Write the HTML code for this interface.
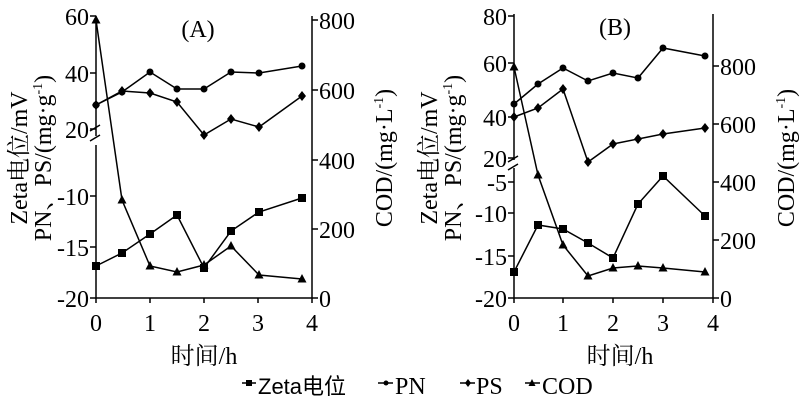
<!DOCTYPE html>
<html><head><meta charset="utf-8"><style>
html,body{margin:0;padding:0;background:#fff;}
svg{display:block;font-family:"Liberation Serif","Noto Serif CJK SC",serif;}
</style></head><body>
<svg width="809" height="410" viewBox="0 0 809 410" xmlns="http://www.w3.org/2000/svg">
<defs>
<rect id="sq" x="-4" y="-4" width="8" height="8" fill="#000"/>
<circle id="ci" r="3.5" fill="#000"/>
<path id="di" d="M0,-5 L4,0 L0,5 L-4,0Z" fill="#000"/>
<path id="tr" d="M0,-5 L4.5,3.5 L-4.5,3.5Z" fill="#000"/>
</defs>
<g stroke="#000" stroke-width="1.5" fill="none">
<path d="M96,16 V136 M96,145 V298 H312 V16"/>
<path d="M90,131 L100,125 M90,141 L100,135"/>
<path d="M90,16 H96 M90,73 H96 M90,129 H96 M90,196 H96 M90,247 H96 M90,298 H96"/>
<path d="M312,20 H318 M312,90 H318 M312,160 H318 M312,229 H318 M312,298 H318"/>
<path d="M96,298 V303 M150,298 V303 M204,298 V303 M258,298 V303 M312,298 V303"/>
<polyline points="96,105 122,92 150,72 177,89 204,89 231,72 259,73 302,66"/>
<polyline points="96,105 122,91 150,93 177,102 204,135 231,119 259,127 302,96"/>
<polyline points="96,266 122,253 150,234 177,215 204,268 231,231 259,212 302,198"/>
<polyline points="96,20 122,200 150,266 177,272 204,265 231,246 259,275 302,279"/>
<path d="M514,14 V160 M514,168 V298 H713 V14"/>
<path d="M508,162 L518,156 M508,170 L518,164"/>
<path d="M508,16 H514 M508,63 H514 M508,117 H514 M508,158 H514 M508,182 H514 M508,213 H514 M508,256 H514 M508,298 H514"/>
<path d="M713,66 H719 M713,124 H719 M713,182 H719 M713,240 H719 M713,298 H719"/>
<path d="M514,298 V303 M563,298 V303 M613,298 V303 M663,298 V303 M713,298 V303"/>
<polyline points="514,104 538,84 563,68 588,81 613,73 638,78 663,48 705,56"/>
<polyline points="514,117 538,108 563,89 588,162 613,144 638,139 663,134 705,128"/>
<polyline points="514,272 538,225 563,229 588,243 613,258 638,204 663,176 705,216"/>
<polyline points="514,67 538,175 563,245 588,276 613,268 638,266 663,268 705,272"/>
<path d="M242,383 H256 M378,383 H393 M460,383 H475 M525,383 H540"/>
</g>
<g>
<use href="#ci" x="96" y="105"/><use href="#ci" x="122" y="92"/><use href="#ci" x="150" y="72"/><use href="#ci" x="177" y="89"/><use href="#ci" x="204" y="89"/><use href="#ci" x="231" y="72"/><use href="#ci" x="259" y="73"/><use href="#ci" x="302" y="66"/>
<use href="#di" x="96" y="105"/><use href="#di" x="122" y="91"/><use href="#di" x="150" y="93"/><use href="#di" x="177" y="102"/><use href="#di" x="204" y="135"/><use href="#di" x="231" y="119"/><use href="#di" x="259" y="127"/><use href="#di" x="302" y="96"/>
<use href="#sq" x="96" y="266"/><use href="#sq" x="122" y="253"/><use href="#sq" x="150" y="234"/><use href="#sq" x="177" y="215"/><use href="#sq" x="204" y="268"/><use href="#sq" x="231" y="231"/><use href="#sq" x="259" y="212"/><use href="#sq" x="302" y="198"/>
<use href="#tr" x="96" y="20"/><use href="#tr" x="122" y="200"/><use href="#tr" x="150" y="266"/><use href="#tr" x="177" y="272"/><use href="#tr" x="204" y="265"/><use href="#tr" x="231" y="246"/><use href="#tr" x="259" y="275"/><use href="#tr" x="302" y="279"/>
<use href="#ci" x="514" y="104"/><use href="#ci" x="538" y="84"/><use href="#ci" x="563" y="68"/><use href="#ci" x="588" y="81"/><use href="#ci" x="613" y="73"/><use href="#ci" x="638" y="78"/><use href="#ci" x="663" y="48"/><use href="#ci" x="705" y="56"/>
<use href="#di" x="514" y="117"/><use href="#di" x="538" y="108"/><use href="#di" x="563" y="89"/><use href="#di" x="588" y="162"/><use href="#di" x="613" y="144"/><use href="#di" x="638" y="139"/><use href="#di" x="663" y="134"/><use href="#di" x="705" y="128"/>
<use href="#sq" x="514" y="272"/><use href="#sq" x="538" y="225"/><use href="#sq" x="563" y="229"/><use href="#sq" x="588" y="243"/><use href="#sq" x="613" y="258"/><use href="#sq" x="638" y="204"/><use href="#sq" x="663" y="176"/><use href="#sq" x="705" y="216"/>
<use href="#tr" x="514" y="67"/><use href="#tr" x="538" y="175"/><use href="#tr" x="563" y="245"/><use href="#tr" x="588" y="276"/><use href="#tr" x="613" y="268"/><use href="#tr" x="638" y="266"/><use href="#tr" x="663" y="268"/><use href="#tr" x="705" y="272"/>
<rect x="246" y="380" width="6" height="6"/>
<circle cx="386" cy="383" r="2.5"/>
<path d="M468,379 L471,383 L468,387 L465,383Z"/>
<path d="M532,379 L535.5,386 L528.5,386Z"/>
</g>
<g font-size="24" fill="#000">
<g text-anchor="end">
<text x="89" y="25">60</text><text x="89" y="82">40</text><text x="89" y="138">20</text>
<text x="89" y="205">-10</text><text x="89" y="256">-15</text><text x="89" y="307">-20</text>
</g>
<g text-anchor="start">
<text x="319" y="29">800</text><text x="319" y="99">600</text><text x="319" y="169">400</text><text x="319" y="238">200</text><text x="319" y="307">0</text>
</g>
<g text-anchor="middle">
<text x="96" y="331">0</text><text x="150" y="331">1</text><text x="204" y="331">2</text><text x="258" y="331">3</text><text x="312" y="331">4</text>
<text x="198" y="37">(A)</text>
<text x="204" y="364">时间/h</text>
</g>
<text transform="translate(27,158) rotate(-90)" text-anchor="middle">Zeta电位/mV</text>
<text transform="translate(51,158) rotate(-90)" text-anchor="middle">PN、PS/(mg·g<tspan font-size="14" dy="-9">-1</tspan><tspan dy="9">)</tspan></text>
<text transform="translate(392,158) rotate(-90)" text-anchor="middle">COD/(mg·L<tspan font-size="14" dy="-9">-1</tspan><tspan dy="9">)</tspan></text>
<g text-anchor="end">
<text x="507" y="25">80</text><text x="507" y="72">60</text><text x="507" y="126">40</text><text x="507" y="167">20</text>
<text x="507" y="191">-5</text><text x="507" y="222">-10</text><text x="507" y="265">-15</text><text x="507" y="307">-20</text>
</g>
<g text-anchor="start">
<text x="720" y="75">800</text><text x="720" y="133">600</text><text x="720" y="191">400</text><text x="720" y="249">200</text><text x="720" y="307">0</text>
</g>
<g text-anchor="middle">
<text x="514" y="331">0</text><text x="563" y="331">1</text><text x="613" y="331">2</text><text x="663" y="331">3</text><text x="713" y="331">4</text>
<text x="615" y="35">(B)</text>
<text x="620" y="364">时间/h</text>
</g>
<text transform="translate(437,158) rotate(-90)" text-anchor="middle">Zeta电位/mV</text>
<text transform="translate(461,158) rotate(-90)" text-anchor="middle">PN、PS/(mg·g<tspan font-size="14" dy="-9">-1</tspan><tspan dy="9">)</tspan></text>
<text transform="translate(794,158) rotate(-90)" text-anchor="middle">COD/(mg·L<tspan font-size="14" dy="-9">-1</tspan><tspan dy="9">)</tspan></text>
<text x="258" y="394" font-family="Liberation Sans, Noto Sans CJK SC, sans-serif" font-size="22">Zeta电位</text>
<text x="395" y="394">PN</text>
<text x="476" y="394">PS</text>
<text x="542" y="394">COD</text>
</g>
</svg>
</body></html>
